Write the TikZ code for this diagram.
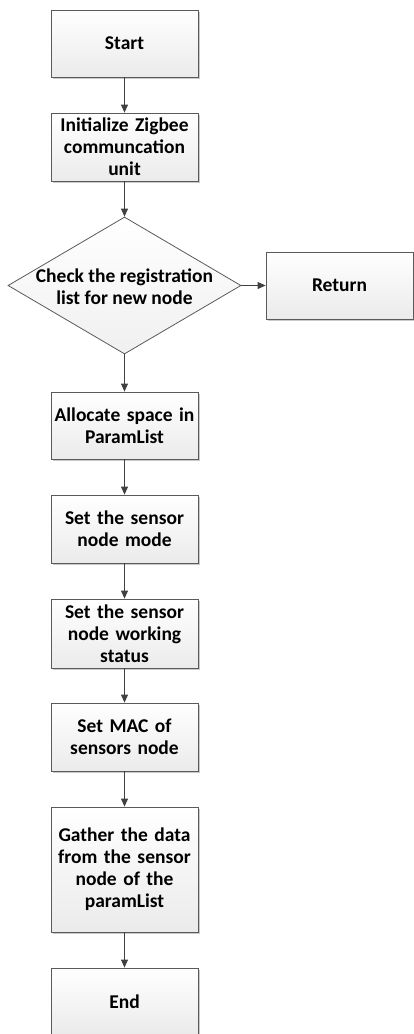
\documentclass[tikz,border=0pt]{standalone}
\usepackage{fontspec}
\setmainfont{Carlito}
\usetikzlibrary{shapes.geometric,arrows.meta,shadows}
\definecolor{edge}{HTML}{5A5A5A}
\definecolor{arr}{HTML}{404040}
\tikzset{
  box/.style={draw=edge, line width=0.8pt, top color=white, bottom color=black!8,
    minimum width=147pt, inner sep=2pt, align=center, text width=142pt,
    font=\fontsize{19.5}{22}\selectfont\bfseries,
    drop shadow={shadow xshift=2pt, shadow yshift=-2pt, fill=black!35, opacity=0.6}},
  dia/.style={draw=edge, line width=0.8pt, diamond, top color=white, bottom color=black!6,
    minimum width=233pt, minimum height=137pt, inner sep=0pt},
  lbl/.style={align=center, font=\fontsize{19.5}{22}\selectfont\bfseries},
  flow/.style={draw=arr, line width=0.9pt, -{Triangle[length=8pt,width=7pt]}}
}
\begin{document}
\begin{tikzpicture}[x=1pt,y=1pt]
\useasboundingbox (0,0) rectangle (413,-1034);
\node[box, minimum height=67pt] (start) at (124.5,-43.5) {Start};
\node[box, minimum height=68pt] (init) at (124.5,-147) {Initialize Zigbee\\communcation\\unit};
\node[dia] (check) at (124.5,-285.5) {};
\node[lbl] (checkt) at (124.5,-286.5) {Check the registration\\list for new node};
\node[box, minimum height=67pt] (ret) at (339.5,-285.5) {Return};
\node[box, minimum height=67pt] (alloc) at (124.5,-425.5) {Allocate space in\\ParamList};
\node[box, minimum height=68pt] (mode) at (124.5,-529) {Set the sensor\\node mode};
\node[box, minimum height=69pt] (status) at (124.5,-633.5) {Set the sensor\\node working\\status};
\node[box, minimum height=68pt] (mac) at (124.5,-737) {Set MAC of\\sensors node};
\node[box, minimum height=125pt] (gather) at (124.5,-869.5) {Gather the data\\from the sensor\\node of the\\paramList};
\node[box, minimum height=67pt] (end) at (124.5,-1001.5) {End};
\draw[flow] (start) -- (init);
\draw[flow] (init) -- (check);
\draw[flow] (check) -- (ret);
\draw[flow] (check) -- (alloc);
\draw[flow] (alloc) -- (mode);
\draw[flow] (mode) -- (status);
\draw[flow] (status) -- (mac);
\draw[flow] (mac) -- (gather);
\draw[flow] (gather) -- (end);
\end{tikzpicture}
\end{document}
